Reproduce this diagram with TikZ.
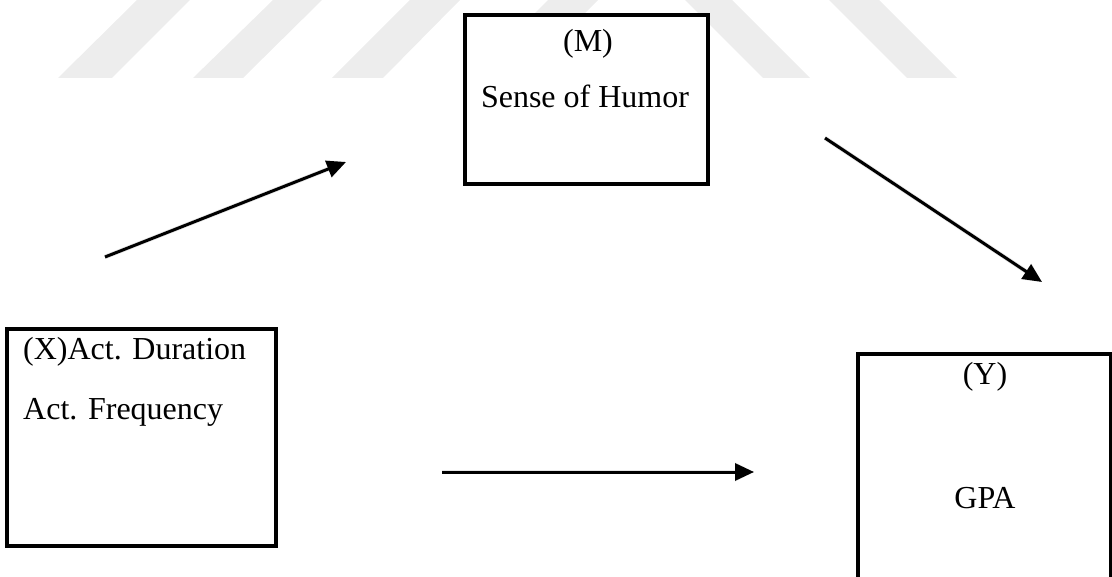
\documentclass[tikz,border=0pt]{standalone}
\usepackage{fontspec}
\setmainfont{Liberation Serif}
\usetikzlibrary{arrows.meta}

\tikzset{
  box/.style={draw=black, fill=white, line width=3.4pt, rectangle, inner sep=0pt},
  label/.style={font=\fontsize{32}{38}\selectfont, anchor=base, inner sep=0pt},
  flow/.style={line width=3pt, -{Triangle[length=19pt,width=17pt]}},
  flowshadow/.style={line width=4.5pt, black!14, opacity=0.7, -{Triangle[length=19pt,width=18pt]}},
  band/.style={fill=black!7, draw=none}
}

\begin{document}
\begin{tikzpicture}[x=1pt, y=-1pt]
  \useasboundingbox (0,0) rectangle (1112,577);
  \clip (0,0) rectangle (1112,577);

  % background stripes along the top
  \fill[band] (58,78) -- (112,78) -- (190,0) -- (137,0) -- cycle;
  \fill[band] (193,78) -- (243,78) -- (322,0) -- (273,0) -- cycle;
  \fill[band] (332,78) -- (383,78) -- (460,0) -- (410,0) -- cycle;
  \fill[band] (470,78) -- (520,78) -- (598,0) -- (548,0) -- cycle;
  \fill[band] (763,78) -- (810,78) -- (732,0) -- (685,0) -- cycle;
  \fill[band] (907,78) -- (957,78) -- (879,0) -- (829,0) -- cycle;

  % variable boxes
  \node[box, minimum width=243pt, minimum height=169pt] (mbox) at (586.5,99.5) {};
  \node[box, minimum width=269pt, minimum height=217pt] (xbox) at (141.5,437.5) {};
  \node[box, minimum width=253pt, minimum height=280pt] (ybox) at (984.5,494) {};

  % box labels
  \node[label] (mtag) at (588,52) {(M)};
  \node[label] (mname) at (585,108) {Sense of Humor};
  \node[label, anchor=base west] (xname) at (23,360) {(X)Act. Duration};
  \node[label, anchor=base west] (xfreq) at (23,420) {Act. Frequency};
  \node[label] (ytag) at (985,385) {(Y)};
  \node[label] (yname) at (985,508) {GPA};

  % arrow end points
  \coordinate (a1s) at (105,257);
  \coordinate (a1e) at (346,162);
  \coordinate (a2s) at (825,138);
  \coordinate (a2e) at (1042,282);
  \coordinate (a3s) at (442,472);
  \coordinate (a3e) at (754,472);

  % soft shadows under the arrows
  \begin{scope}[shift={(1.5,3)}]
    \draw[flowshadow] (a1s) -- (a1e);
    \draw[flowshadow] (a2s) -- (a2e);
    \draw[flowshadow] (a3s) -- (a3e);
  \end{scope}

  % arrows
  \draw[flow] (a1s) -- (a1e);
  \draw[flow] (a2s) -- (a2e);
  \draw[flow] (a3s) -- (a3e);
\end{tikzpicture}
\end{document}
